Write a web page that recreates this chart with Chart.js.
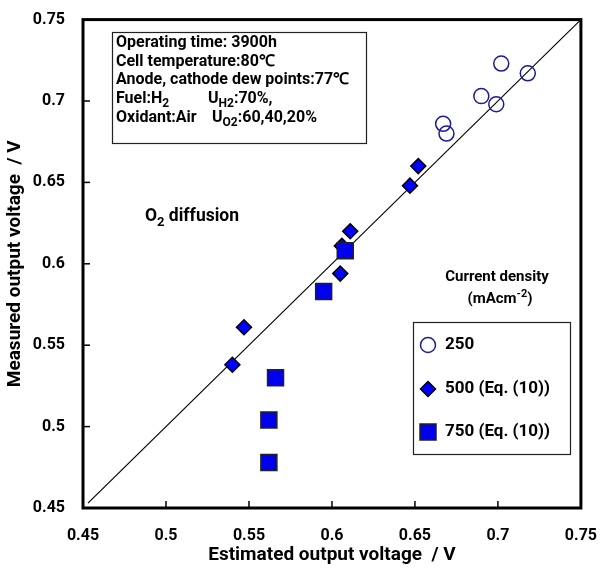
<!DOCTYPE html>
<html lang="en">
<head>
<meta charset="UTF-8">
<title>Measured vs estimated output voltage</title>
<script src="https://cdn.jsdelivr.net/npm/chart.js"></script>
<style>
  html, body { margin: 0; padding: 0; background: #fff; }
  #wrap { width: 607px; height: 571px; }
</style>
</head>
<body>
<div id="wrap"><canvas id="chart"></canvas></div>
<script>
  // axis range and ticks
  const axisMin = 0.45;
  const axisMax = 0.75;
  const tickStep = 0.05;

  // 250 mAcm-2
  const est250 = [0.702, 0.718, 0.690, 0.699, 0.667, 0.669];
  const meas250 = [0.723, 0.717, 0.703, 0.698, 0.686, 0.680];
  // 500 mAcm-2 (Eq. (10))
  const est500 = [0.652, 0.647, 0.611, 0.606, 0.605, 0.547, 0.540];
  const meas500 = [0.660, 0.648, 0.620, 0.611, 0.594, 0.561, 0.538];
  // 750 mAcm-2 (Eq. (10))
  const est750 = [0.608, 0.595, 0.566, 0.562, 0.562];
  const meas750 = [0.608, 0.583, 0.530, 0.504, 0.478];
  // y = x reference line
  const fitLine = [0.453, 0.75];

  const FONT = "Roboto, 'Liberation Sans', sans-serif";

  const pts = (xs, ys) => xs.map((x, i) => ({ x: x, y: ys[i] }));

  // draws a line of text made of normal / subscript / superscript parts
  function richText(ctx, x, y, parts, size) {
    let cx = x;
    parts.forEach(p => {
      const s = p.sub || p.sup ? Math.round(size * 0.72) : size;
      ctx.font = "bold " + s + "px " + FONT;
      const dy = p.sub ? size * 0.3 : (p.sup ? -size * 0.35 : 0);
      ctx.fillText(p.t, cx, y + dy);
      cx += ctx.measureText(p.t).width;
    });
    return cx - x;
  }

  function marker(ctx, style, x, y) {
    ctx.save();
    ctx.lineWidth = 1.5;
    ctx.beginPath();
    if (style === "circle") {
      ctx.arc(x, y, 7.5, 0, Math.PI * 2);
      ctx.fillStyle = "#fff"; ctx.strokeStyle = "#1c1c96";
      ctx.fill(); ctx.stroke();
    } else if (style === "rectRot") {
      ctx.moveTo(x, y - 7.5); ctx.lineTo(x + 7.5, y); ctx.lineTo(x, y + 7.5); ctx.lineTo(x - 7.5, y); ctx.closePath();
      ctx.fillStyle = "#0000ff"; ctx.strokeStyle = "#000";
      ctx.fill(); ctx.stroke();
    } else {
      ctx.rect(x - 8, y - 8, 16, 16);
      ctx.fillStyle = "#0000ee"; ctx.strokeStyle = "#222";
      ctx.fill(); ctx.stroke();
    }
    ctx.restore();
  }

  const decorations = {
    id: "decorations",
    afterDraw(chart) {
      const ctx = chart.ctx;
      const a = chart.chartArea;
      const xs = chart.scales.x, ys = chart.scales.y;
      ctx.save();

      // inward ticks
      ctx.strokeStyle = "#000";
      ctx.lineWidth = 1.5;
      for (let v = axisMin + tickStep; v < axisMax - 1e-9; v += tickStep) {
        const px = xs.getPixelForValue(v);
        ctx.beginPath(); ctx.moveTo(px, a.bottom); ctx.lineTo(px, a.bottom - 7); ctx.stroke();
        const py = ys.getPixelForValue(v);
        ctx.beginPath(); ctx.moveTo(a.left, py); ctx.lineTo(a.left + 7, py); ctx.stroke();
      }

      // frame
      ctx.lineWidth = 3;
      ctx.strokeRect(a.left, a.top, a.right - a.left, a.bottom - a.top);

      // operating conditions box
      ctx.lineWidth = 1.2;
      ctx.strokeStyle = "#222";
      ctx.strokeRect(112.5, 32.5, 254, 111);
      ctx.fillStyle = "#000";
      ctx.textBaseline = "middle";
      ctx.textAlign = "left";
      const lh = 18.7, ty = 43, tx = 116, fs = 16;
      richText(ctx, tx, ty, [{ t: "Operating time: 3900h" }], fs);
      richText(ctx, tx, ty + lh, [{ t: "Cell temperature:80\u2103" }], fs);
      richText(ctx, tx, ty + lh * 2, [{ t: "Anode, cathode dew points:77\u2103" }], fs);
      richText(ctx, tx, ty + lh * 3, [{ t: "Fuel:H" }, { t: "2", sub: true }], fs);
      richText(ctx, 208, ty + lh * 3, [{ t: "U" }, { t: "H2", sub: true }, { t: ":70%," }], fs);
      richText(ctx, tx, ty + lh * 4, [{ t: "Oxidant:Air" }], fs);
      richText(ctx, 212, ty + lh * 4, [{ t: "U" }, { t: "O2", sub: true }, { t: ":60,40,20%" }], fs);

      // annotation
      richText(ctx, 145, 217, [{ t: "O" }, { t: "2", sub: true }, { t: " diffusion" }], 17.5);

      // legend heading
      ctx.font = "bold 15px " + FONT;
      const head = "Current density";
      ctx.fillText(head, 497 - ctx.measureText(head).width / 2, 277);
      const unit = [{ t: "(mAcm" }, { t: "-2", sup: true }, { t: ")" }];
      const w = richText(ctx, -1000, 0, unit, 15);
      richText(ctx, 500 - w / 2, 299, unit, 15);

      // legend box
      ctx.lineWidth = 1.2;
      ctx.strokeStyle = "#222";
      ctx.strokeRect(413.5, 322.5, 157, 132);
      chart.data.datasets.filter(d => d.legendY).forEach(d => {
        marker(ctx, d.pointStyle, 428, d.legendY);
        ctx.fillStyle = "#000";
        ctx.font = "bold 17px " + FONT;
        ctx.textBaseline = "middle";
        ctx.fillText(d.label, 445, d.legendY);
      });
      ctx.restore();
    }
  };

  const axisCommon = {
    type: "linear",
    min: axisMin,
    max: axisMax,
    border: { display: false },
    grid: { display: false },
  };

  new Chart(document.getElementById("chart"), {
    type: "scatter",
    data: {
      datasets: [
        {
          type: "line",
          label: "y = x",
          data: pts(fitLine, fitLine),
          borderColor: "#000",
          borderWidth: 1.2,
          pointRadius: 0,
          fill: false,
          order: 4
        },
        {
          label: "250",
          data: pts(est250, meas250),
          pointStyle: "circle",
          pointRadius: 7.5,
          borderWidth: 1.5,
          borderColor: "#1c1c96",
          backgroundColor: "rgba(255,255,255,0)",
          legendY: 345,
          order: 1
        },
        {
          label: "500 (Eq. (10))",
          data: pts(est500, meas500),
          pointStyle: "rectRot",
          pointRadius: 7.5,
          borderWidth: 1.5,
          borderColor: "#000",
          backgroundColor: "#0000ff",
          legendY: 389,
          order: 3
        },
        {
          label: "750 (Eq. (10))",
          data: pts(est750, meas750),
          pointStyle: "rect",
          pointRadius: 11.3,
          borderWidth: 1.5,
          borderColor: "#222",
          backgroundColor: "#0000ee",
          legendY: 432,
          order: 2
        }
      ]
    },
    options: {
      responsive: true,
      maintainAspectRatio: false,
      animation: false,
      layout: { padding: { top: 18, right: 14, left: 0, bottom: 0 } },
      plugins: { legend: { display: false }, tooltip: { enabled: false } },
      scales: {
        x: Object.assign({}, axisCommon, {
          ticks: {
            stepSize: tickStep,
            padding: 10,
            color: "#000",
            font: { family: FONT, size: 16, weight: "bold" },
            callback: v => Number(v.toFixed(2)).toString()
          },
          title: {
            display: true,
            text: "Estimated output voltage  / V",
            color: "#000",
            font: { family: FONT, size: 19, weight: "bold" },
            padding: { top: 0, bottom: 4 }
          },
          afterFit: s => { s.height = 63; }
        }),
        y: Object.assign({}, axisCommon, {
          ticks: {
            stepSize: tickStep,
            padding: 10,
            color: "#000",
            font: { family: FONT, size: 16, weight: "bold" },
            callback: v => Number(v.toFixed(2)).toString()
          },
          title: {
            display: true,
            text: "Measured output voltage  / V",
            color: "#000",
            font: { family: FONT, size: 19, weight: "bold" },
            padding: { top: 4, bottom: 0 }
          },
          afterFit: s => { s.width = 83; }
        })
      }
    },
    plugins: [decorations]
  });
</script>
</body>
</html>
